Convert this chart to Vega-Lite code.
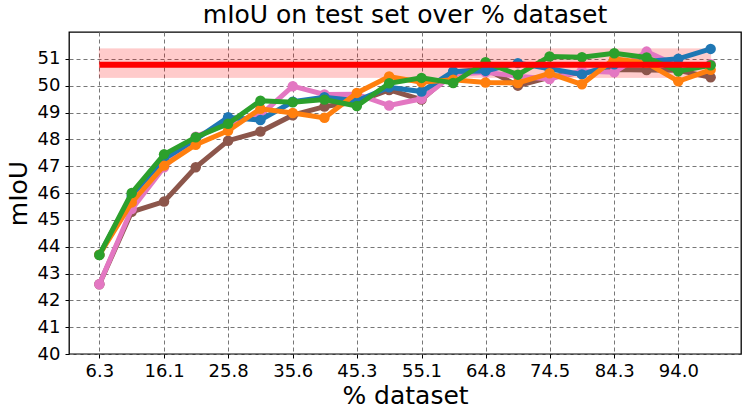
{
  "$schema": "https://vega.github.io/schema/vega-lite/v6.json",
  "width": 672,
  "height": 322,
  "autosize": "none",
  "padding": {"left": 69, "top": 32, "right": 4, "bottom": 60},
  "background": "white",
  "config": {
    "font": "DejaVu Sans",
    "view": {"stroke": "#000000", "strokeWidth": 1.3},
    "axis": {
      "domain": false,
      "grid": true,
      "gridColor": "#777777",
      "gridDash": [4, 3],
      "gridWidth": 1,
      "tickColor": "#000000",
      "tickSize": 4,
      "labelFont": "DejaVu Sans",
      "labelFontSize": 18,
      "labelColor": "#000000",
      "labelOverlap": false,
      "titleFont": "DejaVu Sans",
      "titleFontSize": 25,
      "titleFontWeight": "normal",
      "titleColor": "#000000"
    }
  },
  "title": {"text": "mIoU on test set over % dataset", "fontSize": 25, "fontWeight": "normal", "font": "DejaVu Sans", "color": "#000000", "offset": 4},
  "datasets": {
    "runs": [
      {"x": 6.3, "s": "s1", "v": 42.6}, {"x": 11.2, "s": "s1", "v": 45.3}, {"x": 16.1, "s": "s1", "v": 45.68}, {"x": 20.9, "s": "s1", "v": 46.96}, {"x": 25.8, "s": "s1", "v": 47.95}, {"x": 30.7, "s": "s1", "v": 48.29}, {"x": 35.6, "s": "s1", "v": 48.9}, {"x": 40.4, "s": "s1", "v": 49.22}, {"x": 45.3, "s": "s1", "v": 49.4}, {"x": 50.2, "s": "s1", "v": 49.84}, {"x": 55.1, "s": "s1", "v": 49.48}, {"x": 59.9, "s": "s1", "v": 50.5}, {"x": 64.8, "s": "s1", "v": 50.63}, {"x": 69.7, "s": "s1", "v": 50.0}, {"x": 74.5, "s": "s1", "v": 50.31}, {"x": 79.4, "s": "s1", "v": 50.5}, {"x": 84.3, "s": "s1", "v": 50.6}, {"x": 89.2, "s": "s1", "v": 50.58}, {"x": 94.0, "s": "s1", "v": 50.57}, {"x": 98.9, "s": "s1", "v": 50.31},
      {"x": 6.3, "s": "s2", "v": 42.6}, {"x": 11.2, "s": "s2", "v": 45.4}, {"x": 16.1, "s": "s2", "v": 46.96}, {"x": 20.9, "s": "s2", "v": 48.1}, {"x": 25.8, "s": "s2", "v": 48.6}, {"x": 30.7, "s": "s2", "v": 48.9}, {"x": 35.6, "s": "s2", "v": 49.98}, {"x": 40.4, "s": "s2", "v": 49.67}, {"x": 45.3, "s": "s2", "v": 49.68}, {"x": 50.2, "s": "s2", "v": 49.26}, {"x": 55.1, "s": "s2", "v": 49.51}, {"x": 59.9, "s": "s2", "v": 50.42}, {"x": 64.8, "s": "s2", "v": 50.5}, {"x": 69.7, "s": "s2", "v": 50.35}, {"x": 74.5, "s": "s2", "v": 50.25}, {"x": 79.4, "s": "s2", "v": 50.55}, {"x": 84.3, "s": "s2", "v": 50.5}, {"x": 89.2, "s": "s2", "v": 51.27}, {"x": 94.0, "s": "s2", "v": 50.72}, {"x": 98.9, "s": "s2", "v": 50.8},
      {"x": 6.3, "s": "s3", "v": 43.7}, {"x": 11.2, "s": "s3", "v": 45.9}, {"x": 16.1, "s": "s3", "v": 47.27}, {"x": 20.9, "s": "s3", "v": 48.0}, {"x": 25.8, "s": "s3", "v": 48.82}, {"x": 30.7, "s": "s3", "v": 48.72}, {"x": 35.6, "s": "s3", "v": 49.4}, {"x": 40.4, "s": "s3", "v": 49.57}, {"x": 45.3, "s": "s3", "v": 49.44}, {"x": 50.2, "s": "s3", "v": 49.94}, {"x": 55.1, "s": "s3", "v": 49.78}, {"x": 59.9, "s": "s3", "v": 50.53}, {"x": 64.8, "s": "s3", "v": 50.55}, {"x": 69.7, "s": "s3", "v": 50.84}, {"x": 74.5, "s": "s3", "v": 50.63}, {"x": 79.4, "s": "s3", "v": 50.42}, {"x": 84.3, "s": "s3", "v": 50.8}, {"x": 89.2, "s": "s3", "v": 50.9}, {"x": 94.0, "s": "s3", "v": 51.0}, {"x": 98.9, "s": "s3", "v": 51.37},
      {"x": 6.3, "s": "s4", "v": 43.7}, {"x": 11.2, "s": "s4", "v": 45.65}, {"x": 16.1, "s": "s4", "v": 47.02}, {"x": 20.9, "s": "s4", "v": 47.8}, {"x": 25.8, "s": "s4", "v": 48.32}, {"x": 30.7, "s": "s4", "v": 49.14}, {"x": 35.6, "s": "s4", "v": 48.98}, {"x": 40.4, "s": "s4", "v": 48.8}, {"x": 45.3, "s": "s4", "v": 49.73}, {"x": 50.2, "s": "s4", "v": 50.34}, {"x": 55.1, "s": "s4", "v": 50.13}, {"x": 59.9, "s": "s4", "v": 50.22}, {"x": 64.8, "s": "s4", "v": 50.12}, {"x": 69.7, "s": "s4", "v": 50.1}, {"x": 74.5, "s": "s4", "v": 50.46}, {"x": 79.4, "s": "s4", "v": 50.05}, {"x": 84.3, "s": "s4", "v": 51.0}, {"x": 89.2, "s": "s4", "v": 50.85}, {"x": 94.0, "s": "s4", "v": 50.16}, {"x": 98.9, "s": "s4", "v": 50.59},
      {"x": 6.3, "s": "s5", "v": 43.69}, {"x": 11.2, "s": "s5", "v": 46.0}, {"x": 16.1, "s": "s5", "v": 47.44}, {"x": 20.9, "s": "s5", "v": 48.08}, {"x": 25.8, "s": "s5", "v": 48.58}, {"x": 30.7, "s": "s5", "v": 49.44}, {"x": 35.6, "s": "s5", "v": 49.38}, {"x": 40.4, "s": "s5", "v": 49.48}, {"x": 45.3, "s": "s5", "v": 49.24}, {"x": 50.2, "s": "s5", "v": 50.09}, {"x": 55.1, "s": "s5", "v": 50.29}, {"x": 59.9, "s": "s5", "v": 50.1}, {"x": 64.8, "s": "s5", "v": 50.87}, {"x": 69.7, "s": "s5", "v": 50.41}, {"x": 74.5, "s": "s5", "v": 51.09}, {"x": 79.4, "s": "s5", "v": 51.06}, {"x": 84.3, "s": "s5", "v": 51.21}, {"x": 89.2, "s": "s5", "v": 51.05}, {"x": 94.0, "s": "s5", "v": 50.54}, {"x": 98.9, "s": "s5", "v": 50.76}
    ],
    "band": [
      {"x": 6.3, "v": 50.31, "hi": 51.37},
      {"x": 98.9, "v": 50.31, "hi": 51.37}
    ],
    "refline": [
      {"x": 6.3, "v": 50.78},
      {"x": 98.9, "v": 50.78}
    ]
  },
  "encoding": {
    "x": {
      "field": "x", "type": "quantitative",
      "scale": {"domain": [1.7, 103.5], "nice": false, "zero": false},
      "axis": {"values": [6.3, 16.1, 25.8, 35.6, 45.3, 55.1, 64.8, 74.5, 84.3, 94.0], "format": ".1f", "title": "% dataset", "labelPadding": 4, "titlePadding": 3}
    },
    "y": {
      "field": "v", "type": "quantitative",
      "scale": {"domain": [40, 52], "nice": false, "zero": false},
      "axis": {"values": [40, 41, 42, 43, 44, 45, 46, 47, 48, 49, 50, 51], "format": "d", "title": "mIoU", "labelPadding": 5, "titlePadding": 6}
    }
  },
  "layer": [
    {
      "data": {"name": "band"},
      "mark": {"type": "area", "color": "#ff0000", "opacity": 0.2, "stroke": "#ff0000", "strokeWidth": 1},
      "encoding": {"y2": {"field": "hi"}}
    },
    {
      "data": {"name": "runs"},
      "transform": [{"filter": "datum.s === 's1'"}],
      "layer": [
        {"mark": {"type": "line", "color": "#8c564b", "strokeWidth": 5}},
        {"mark": {"type": "point", "filled": true, "opacity": 1, "color": "#8c564b", "size": 110}}
      ]
    },
    {
      "data": {"name": "runs"},
      "transform": [{"filter": "datum.s === 's2'"}],
      "layer": [
        {"mark": {"type": "line", "color": "#e377c2", "strokeWidth": 5}},
        {"mark": {"type": "point", "filled": true, "opacity": 1, "color": "#e377c2", "size": 110}}
      ]
    },
    {
      "data": {"name": "runs"},
      "transform": [{"filter": "datum.s === 's3'"}],
      "layer": [
        {"mark": {"type": "line", "color": "#1f77b4", "strokeWidth": 5}},
        {"mark": {"type": "point", "filled": true, "opacity": 1, "color": "#1f77b4", "size": 110}}
      ]
    },
    {
      "data": {"name": "runs"},
      "transform": [{"filter": "datum.s === 's4'"}],
      "layer": [
        {"mark": {"type": "line", "color": "#ff7f0e", "strokeWidth": 5}},
        {"mark": {"type": "point", "filled": true, "opacity": 1, "color": "#ff7f0e", "size": 110}}
      ]
    },
    {
      "data": {"name": "runs"},
      "transform": [{"filter": "datum.s === 's5'"}],
      "layer": [
        {"mark": {"type": "line", "color": "#2ca02c", "strokeWidth": 5}},
        {"mark": {"type": "point", "filled": true, "opacity": 1, "color": "#2ca02c", "size": 110}}
      ]
    },
    {
      "data": {"name": "refline"},
      "mark": {"type": "line", "color": "#ff0000", "strokeWidth": 6, "strokeCap": "butt"},
      "encoding": {}
    }
  ]
}
